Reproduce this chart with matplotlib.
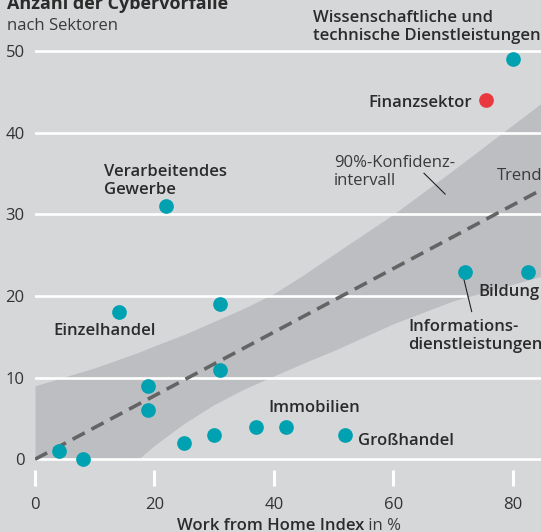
import matplotlib
matplotlib.use("Agg")
import matplotlib.pyplot as plt

plt.rcParams['font.family'] = ['Open Sans', 'DejaVu Sans']

# sectors: work from home index (%) vs. number of cyber incidents
wfh = [4, 8, 14, 19, 19, 22, 25, 30, 31, 31, 37, 42, 52, 72, 82.5, 80]
incidents = [1, 0, 18, 9, 6, 31, 2, 3, 11, 19, 4, 4, 3, 23, 23, 49]
finance_wfh = [75.5]
finance_incidents = [44]

# trend line and 90% confidence band
trend_x = [0, 84.76]
trend_y = [0, 33.0]
band_x = [0, 10, 17.3, 20, 25, 30, 35, 40, 45, 50, 60, 70, 84.76]
band_upper = [9.0, 11.2, 13.1, 13.9, 15.3, 16.9, 18.5, 20.3, 22.6, 25.1, 30.0, 35.4, 43.6]
band_lower = [0, 0, 0, 1.7, 4.4, 6.7, 8.6, 10.2, 11.8, 13.3, 16.6, 19.4, 22.4]

xticks = [0, 20, 40, 60, 80]
yticks = [0, 10, 20, 30, 40, 50]

bg = '#d6d7d9'
band_col = '#bdbec1'
teal = '#00a1b1'
red = '#e9393f'
txt = '#2b2b2b'

fig = plt.figure(figsize=(5.41, 5.32), dpi=100, facecolor=bg)
ax = fig.add_axes([35 / 541, 61.7 / 532, 506 / 541, 470.3 / 532])
ax.set_facecolor(bg)
ax.set_xlim(0, 84.76)
ax.set_ylim(-1.35, 56.28)
for s in ax.spines.values():
    s.set_visible(False)

ax.fill_between(band_x, band_lower, band_upper, color=band_col, lw=0, zorder=1)

# gridlines; the one at 20 stops at the Informationsdienstleistungen point
for y in yticks:
    xmax = 1.0
    if y == 20:
        xmax = wfh[13] / 84.76
    ax.axhline(y, xmin=0, xmax=xmax, color='white', lw=1.9, zorder=2)

ax.plot(trend_x, trend_y, color='#646464', lw=2.6, dashes=(3.8, 2.1), zorder=3)

ax.scatter(wfh, incidents, s=112, color=teal, lw=0, zorder=4)
ax.scatter(finance_wfh, finance_incidents, s=112, color=red, lw=0, zorder=4)

ax.set_xticks(xticks)
ax.set_yticks(yticks)
ax.tick_params(axis='x', length=11.5, width=2.2, color='white', pad=7.5,
               labelsize=12, labelcolor='#333333')
ax.tick_params(axis='y', length=0, pad=7.5, labelsize=12, labelcolor='#333333')

# multi-line labels are placed by the baseline of their last line
lab = dict(fontsize=12, color=txt, fontweight='semibold', va='baseline', linespacing=1.18)
ax.text(46.5, 51.4, 'Wissenschaftliche und\ntechnische Dienstleistungen', **lab)
ax.text(73.15, 43.2, 'Finanzsektor', ha='right', **lab)
ax.text(11.6, 32.5, 'Verarbeitendes\nGewerbe', **lab)
ax.text(3.07, 15.23, 'Einzelhandel', **lab)
ax.text(74.25, 20.0, 'Bildung', **lab)
ax.text(62.5, 13.5, 'Informations-\ndienstleistungen', **lab)
ax.text(39.1, 5.83, 'Immobilien', **lab)
ax.text(54.05, 1.75, 'Großhandel', **lab)

ax.plot([71.8, 73.15], [22.2, 18.1], color='#222222', lw=0.8, zorder=3)

ax.text(50.1, 33.6, '90%-Konfidenz-\nintervall', fontsize=12, color='#3a3a3a',
        va='baseline', linespacing=1.2)
ax.plot([65.16, 68.7], [35.05, 32.5], color='#222222', lw=0.8, zorder=3)
ax.text(77.3, 34.2, 'Trend', fontsize=12, color='#3a3a3a', va='baseline')

fig.text(6.7 / 541, 1 - 9 / 532, 'Anzahl der Cybervorfälle', fontsize=13,
         fontweight='bold', color=txt, va='baseline')
fig.text(6.7 / 541, 1 - 30.5 / 532, 'nach Sektoren', fontsize=12,
         color='#3a3a3a', va='baseline')
fig.text(364 / 541, 1.5 / 532, 'Work from Home Index', fontsize=12,
         fontweight='semibold', color=txt, ha='right', va='baseline')
fig.text(364 / 541, 1.5 / 532, ' in %', fontsize=12, color='#3a3a3a',
         ha='left', va='baseline')

fig.savefig('out.png', dpi=100, facecolor=bg)
